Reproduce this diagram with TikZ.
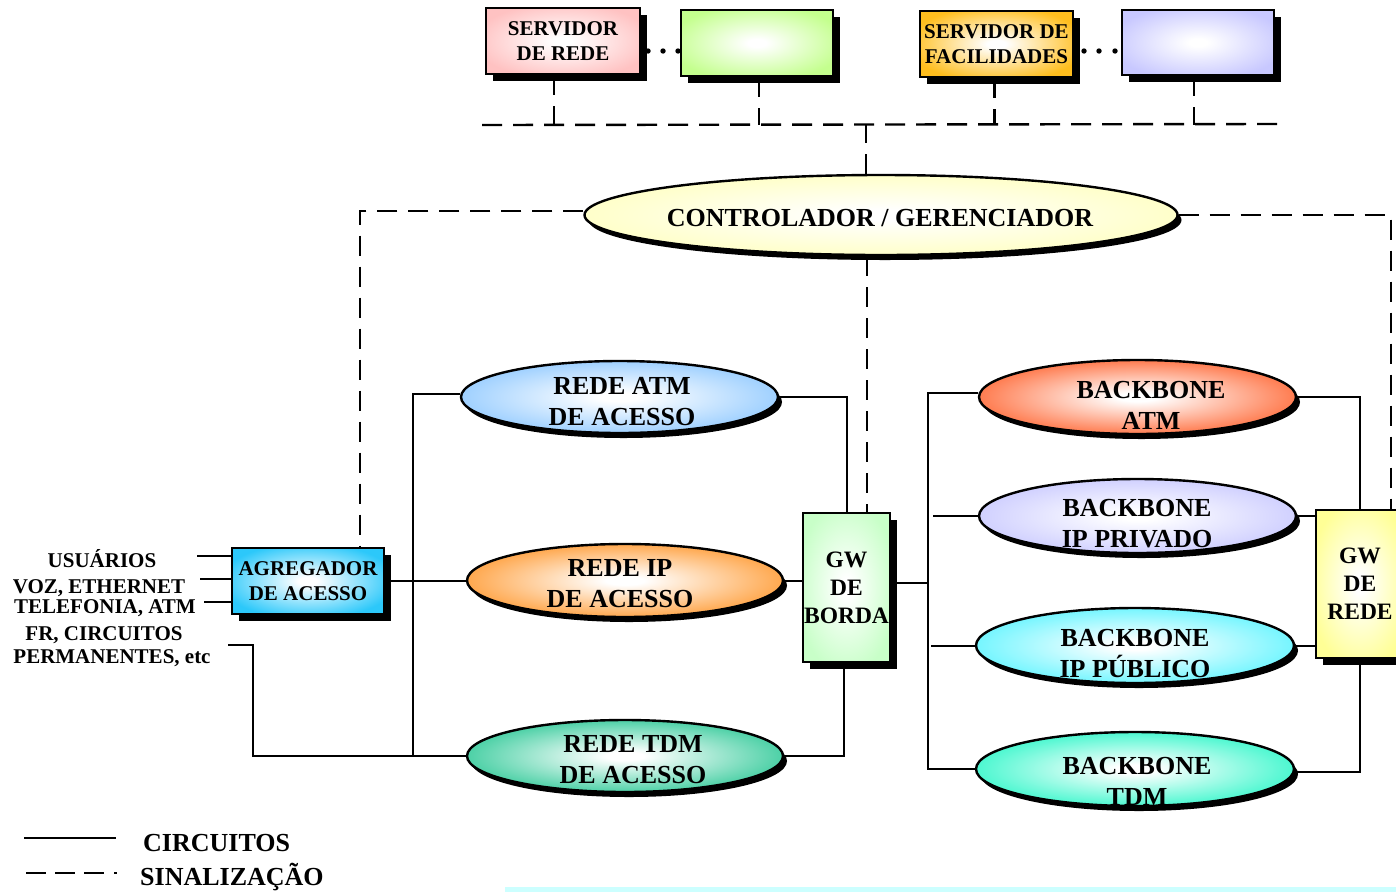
\documentclass[tikz,border=0pt]{standalone}
\usepackage{fontspec}
\setmainfont{Liberation Serif}
\usetikzlibrary{shapes.geometric,shadows}

\definecolor{cPink}{HTML}{FFC2C2}
\definecolor{cLime}{HTML}{C4FF8E}
\definecolor{cGold}{HTML}{FFBE1E}
\definecolor{cLav}{HTML}{C8C8FF}
\definecolor{cCream}{HTML}{FFFFC0}
\definecolor{cSky}{HTML}{8EC8FF}
\definecolor{cOrange}{HTML}{FF982E}
\definecolor{cTeal}{HTML}{2CC896}
\definecolor{cRed}{HTML}{FF6430}
\definecolor{cCyan}{HTML}{5CF4FF}
\definecolor{cAqua}{HTML}{2CF6C8}
\definecolor{cBlue}{HTML}{2CC8FA}
\definecolor{cMint}{HTML}{C8FFC8}
\definecolor{cLemon}{HTML}{FFFF96}
\definecolor{cStrip}{HTML}{CCFFFF}

% soft radial fill: white centre fading to the outer colour
\colorlet{outc}{white}
\pgfdeclareradialshading[outc]{glow}{\pgfpoint{0bp}{0bp}}{color(0bp)=(white); color(3bp)=(white); color(29bp)=(outc); color(50bp)=(outc)}

\tikzset{
  tint/.style={shading=glow, /utils/exec={\colorlet{outc}{#1}}},
  box/.style={rectangle, draw=black, line width=2.4pt, inner sep=0pt, align=center,
    font=\bfseries\fontsize{21}{25}\selectfont,
    drop shadow={shadow xshift=7pt, shadow yshift=-7pt, opacity=1, fill=black}},
  oval/.style={ellipse, draw=black, line width=2.4pt, inner sep=0pt,
    drop shadow={shadow xshift=4pt, shadow yshift=-5pt, opacity=1, fill=black}},
  lbl/.style={align=center, inner sep=0pt, font=\bfseries\fontsize{26}{31}\selectfont},
  small/.style={inner sep=0pt, anchor=base, font=\bfseries\fontsize{21}{25}\selectfont},
  wire/.style={line width=2pt},
  sig/.style={line width=2.4pt, dash pattern=on 20pt off 11pt},
}

\begin{document}
\begin{tikzpicture}[x=1pt,y=-1pt]
\useasboundingbox (0,0) rectangle (1396,892);

% ---------- servers ----------
\node[box, tint=cPink, minimum width=154pt, minimum height=66pt] (srv) at (563,41) {SERVIDOR\\DE REDE};
\node[box, tint=cLime, minimum width=152pt, minimum height=66pt] (srv2) at (757,43) {};
\node[box, tint=cGold, minimum width=153pt, minimum height=66pt] (fac) at (996.5,44) {SERVIDOR DE\\FACILIDADES};
\node[box, tint=cLav, minimum width=152pt, minimum height=65pt] (fac2) at (1198,42.5) {};
\foreach \x in {648,663,678} \fill (\x,51) circle (2.7pt);
\foreach \x in {1084,1099,1115} \fill (\x,51) circle (2.7pt);

% ---------- controller ----------
\node[oval, tint=cCream, minimum width=593pt, minimum height=80pt] (ctl) at (881,215) {};
\node[lbl] (ctlT) at (880,218) {CONTROLADOR / GERENCIADOR};

% ---------- access side ----------
\node[box, tint=cBlue, minimum width=152pt, minimum height=66pt] (agg) at (308,581) {AGREGADOR\\DE ACESSO};

\node[oval, tint=cSky, minimum width=317pt, minimum height=72pt] (atm) at (619.5,397) {};
\node[lbl] (atmT) at (622,402) {REDE ATM\\DE ACESSO};
\node[oval, tint=cOrange, minimum width=316pt, minimum height=73pt] (ip) at (625,580.5) {};
\node[lbl] (ipT) at (620,584) {REDE IP\\DE ACESSO};
\node[oval, tint=cTeal, minimum width=316pt, minimum height=72pt] (tdm) at (625,756) {};
\node[lbl] (tdmT) at (633,760) {REDE TDM\\DE ACESSO};

\node[box, tint=cMint, minimum width=87pt, minimum height=149pt, font=\bfseries\fontsize{23.5}{28}\selectfont] (gwb) at (846.5,587.5) {GW\\DE\\BORDA};

% ---------- backbones ----------
\node[oval, tint=cRed, minimum width=317pt, minimum height=74pt] (bbatm) at (1137.5,397) {};
\node[lbl] (bbatmT) at (1151,405) {BACKBONE\\ATM};
\node[oval, tint=cLav, minimum width=317pt, minimum height=74pt] (bbpriv) at (1137.5,516) {};
\node[lbl] (bbprivT) at (1137,524) {BACKBONE\\IP PRIVADO};
\node[oval, tint=cCyan, minimum width=318pt, minimum height=75pt] (bbpub) at (1135,645.5) {};
\node[lbl] (bbpubT) at (1135,654) {BACKBONE\\IP PÚBLICO};
\node[oval, tint=cAqua, minimum width=318pt, minimum height=74pt] (bbtdm) at (1135,769) {};
\node[lbl] (bbtdmT) at (1137,781) {BACKBONE\\TDM};

\node[box, tint=cLemon, minimum width=88pt, minimum height=148pt, font=\bfseries\fontsize{23.5}{28}\selectfont] (gwr) at (1360,584) {GW\\DE\\REDE};

% ---------- user labels ----------
\node[small] (u1) at (102,567) {USUÁRIOS};
\node[small] (u2) at (99,593) {VOZ, ETHERNET};
\node[small] (u3) at (105,613) {TELEFONIA, ATM};
\node[small] (u4) at (104,640) {FR, CIRCUITOS};
\node[small] (u5) at (112,663) {PERMANENTES, etc};
\coordinate (in1) at (197,556);
\coordinate (in2) at (200,579);
\coordinate (in3) at (204,602);
\coordinate (in4) at (228,645);

% ---------- circuits ----------
\draw[wire] (in1) -- (in1 -| agg.west);
\draw[wire] (in2) -- (in2 -| agg.west);
\draw[wire] (in3) -- (in3 -| agg.west);
\draw[wire] (in4) -- ++(25,0) |- (tdm.west);
\draw[wire] (agg.east) -- (agg.east -| ip.west);
\draw[wire] ([yshift=3pt]atm.west) -- ++(-47,0) |- (tdm.west);
\draw[wire] (atm.east) -| (gwb.north);
\draw[wire] (ip.east) -- (ip.east -| gwb.west);
\draw[wire] (tdm.east) -| ([xshift=-3pt]gwb.south);

\draw[wire] ([yshift=4pt]bbatm.west) -- ++(-50,0) |- (bbtdm.west);
\coordinate (busR) at (929,583);
\draw[wire] (gwb.east |- busR) -- (busR);
\draw[wire] (bbpriv.west) -- ++(-45,0);
\draw[wire] (bbpub.west) -- ++(-44,0);
\draw[wire] (bbatm.east) -| (gwr.north);
\draw[wire] (bbpriv.east) -- (bbpriv.east -| gwr.west);
\draw[wire] (bbpub.east) -- (bbpub.east -| gwr.west);
\draw[wire] ([yshift=-3pt]bbtdm.east) -| (gwr.south);

% ---------- signalling ----------
\coordinate (busA) at (482,125);
\coordinate (busB) at (1280,124);
\draw[sig] (busA) -- (busB);
\draw[sig] ([xshift=-9pt]srv.south) -- ([xshift=-9pt]srv.south |- busA);
\draw[sig] ([xshift=2pt]srv2.south) -- ([xshift=2pt]srv2.south |- busA);
\draw[sig] ([xshift=-2pt]fac.south) -- ([xshift=-2pt]fac.south |- busA);
\draw[sig] ([xshift=-4pt]fac2.south) -- ([xshift=-4pt]fac2.south |- busA);
\draw[sig] ([xshift=-15pt]ctl.north) -- ([xshift=-15pt]ctl.north |- busA);
\draw[sig] ([xshift=-14pt]ctl.south) -- ([xshift=-14pt]ctl.south |- gwb.north);
\draw[sig] ([yshift=4pt]ctl.west) -| ([xshift=52pt]agg.north);
\draw[sig] (ctl.east) -| ([xshift=31pt]gwr.north);

% ---------- legend ----------
\coordinate (lgA) at (24,838);
\coordinate (lgB) at (26,873);
\draw[wire] (lgA) -- ++(92,0);
\draw[line width=2.4pt, dash pattern=on 20pt off 9pt on 20pt off 9pt on 20pt off 10pt on 3pt off 40pt] (lgB) -- ++(93,0);
\node[lbl, anchor=base west] (lg1) at (143,851) {CIRCUITOS};
\node[lbl, anchor=base west] (lg2) at (140,885) {SINALIZAÇÃO};

\fill[cStrip] (505,887) rectangle (1396,892);
\end{tikzpicture}
\end{document}
